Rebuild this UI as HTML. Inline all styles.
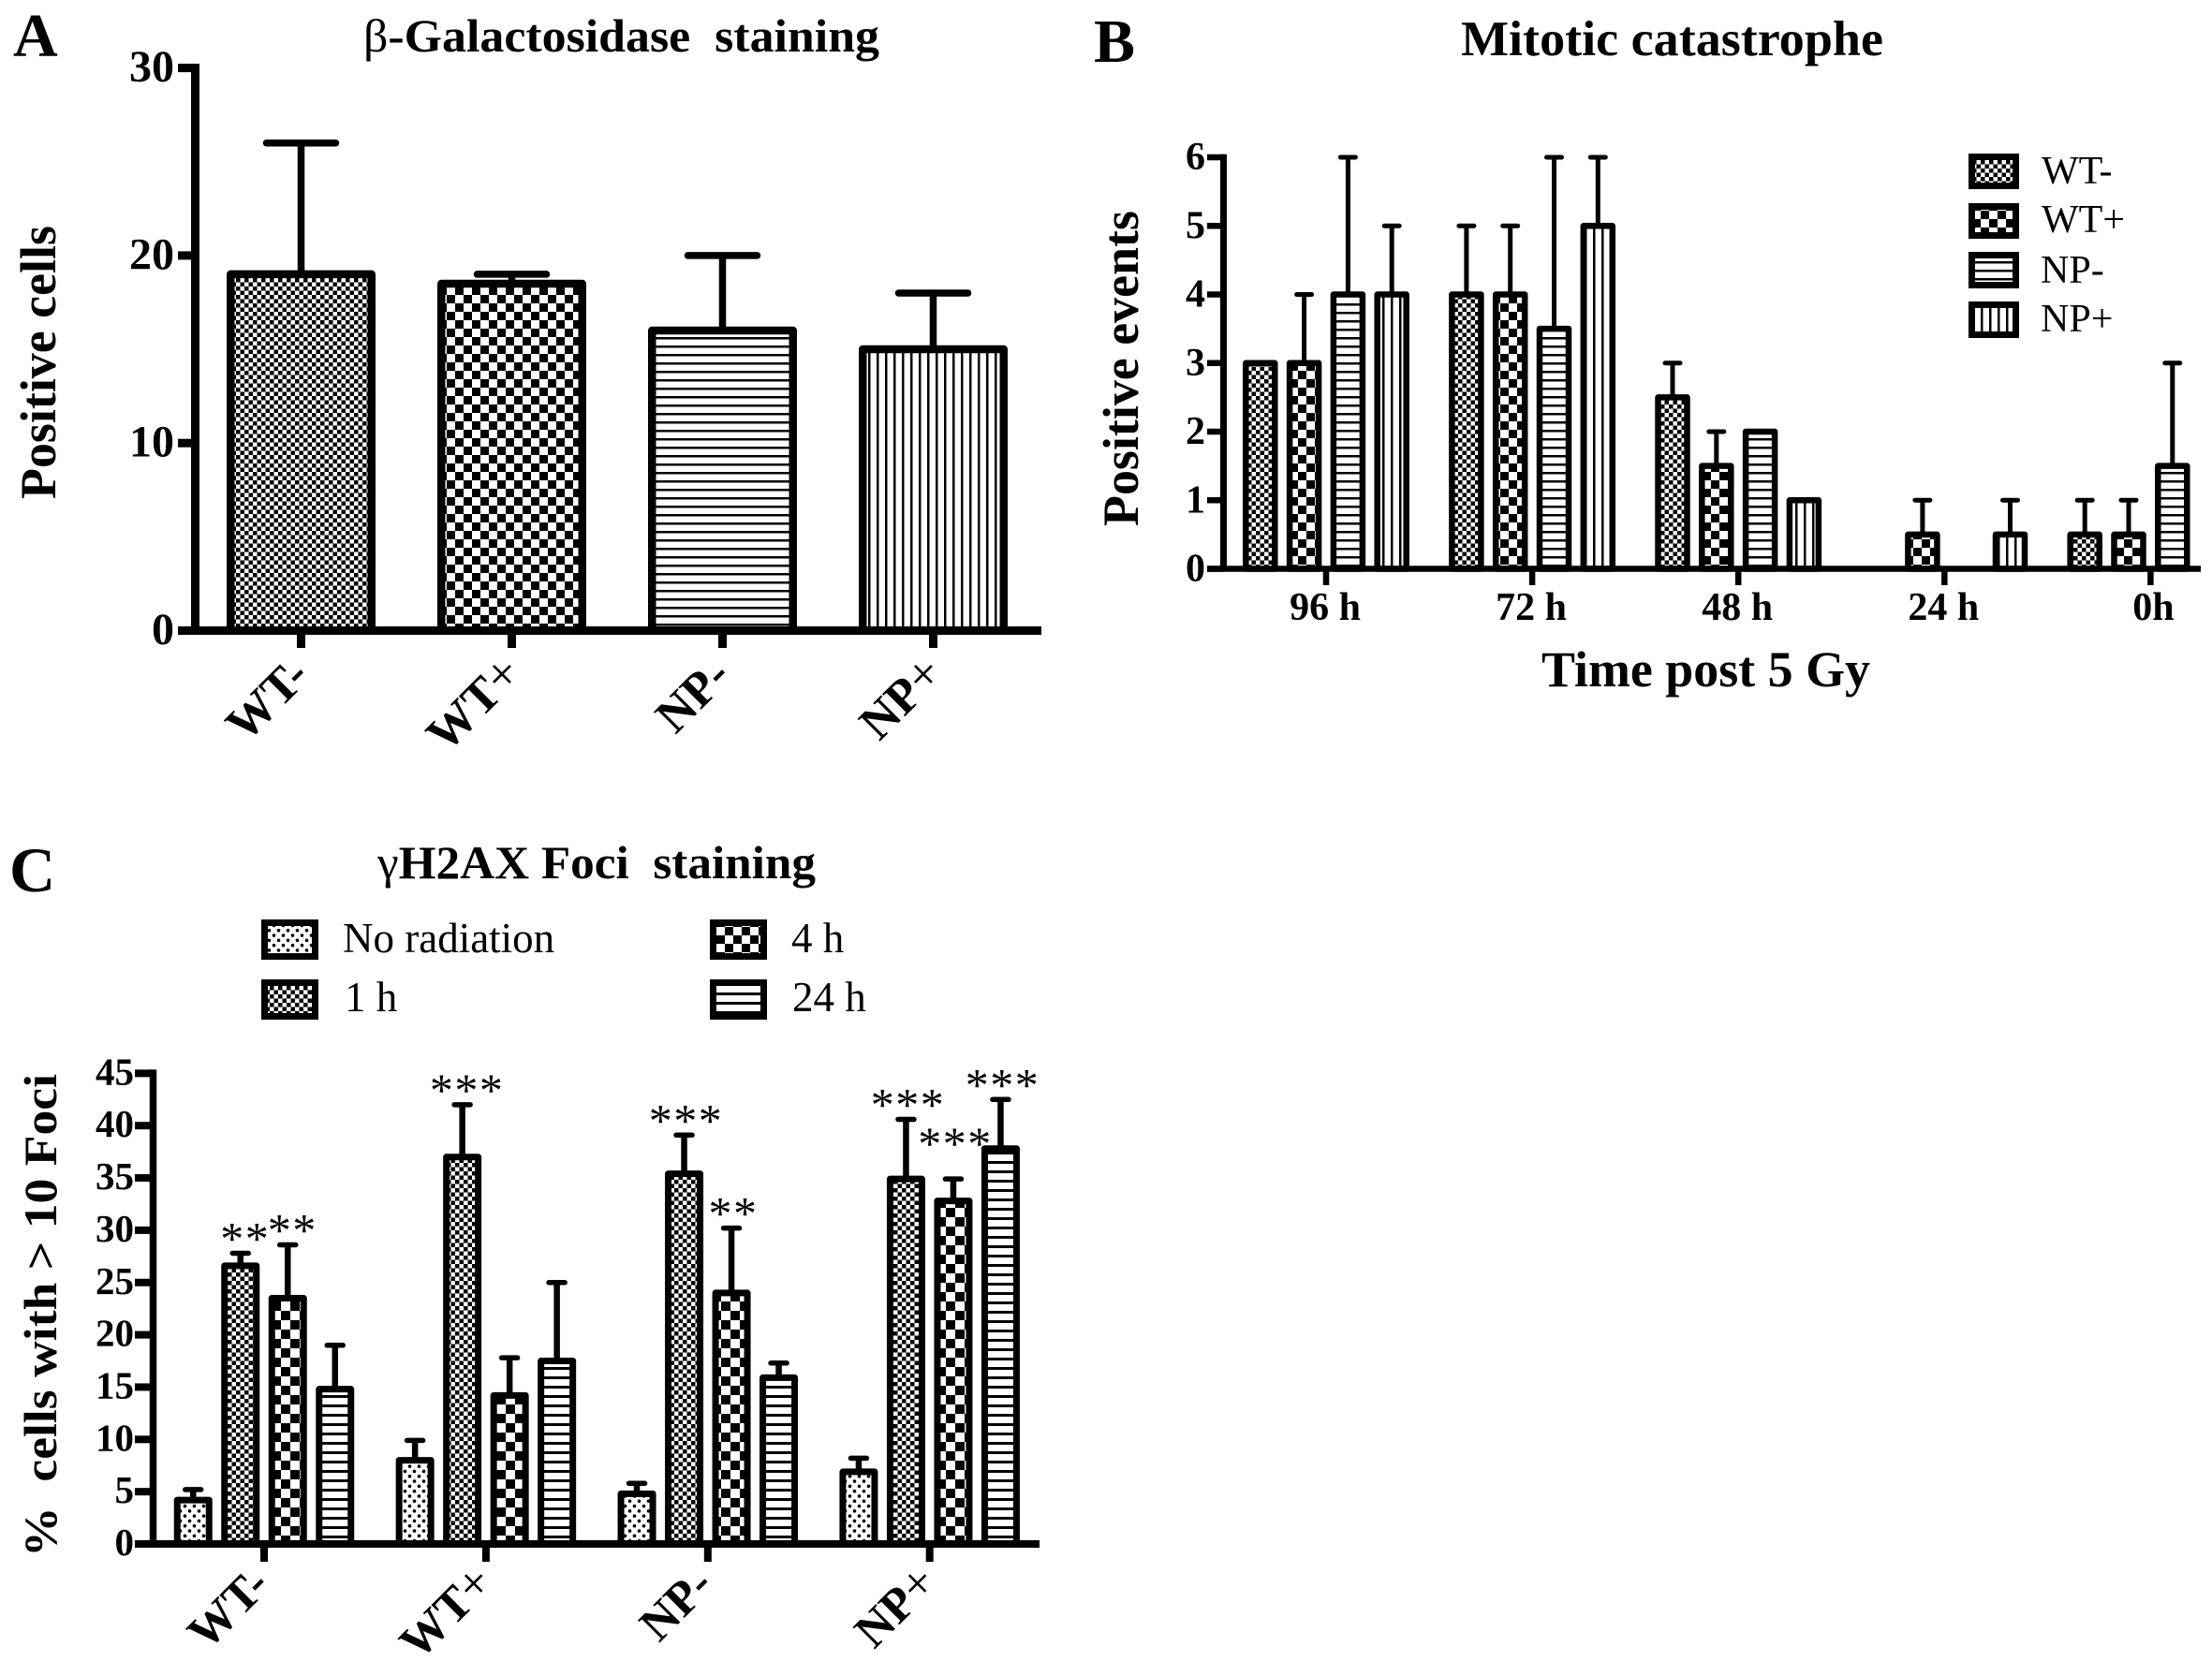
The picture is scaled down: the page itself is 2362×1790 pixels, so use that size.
<!DOCTYPE html>
<html lang="en">
<head>
<meta charset="utf-8">
<title>Staining charts</title>
<style>
html,body{margin:0;padding:0;background:#fff;}
svg{display:block;}
text{font-family:"Liberation Serif","DejaVu Serif",serif;fill:#000;}
.b{font-weight:bold;}
</style>
</head>
<body>
<svg id="figure" xmlns="http://www.w3.org/2000/svg" width="2362" height="1790" viewBox="0 0 2362 1790">
<defs>
<pattern id="chkS" patternUnits="userSpaceOnUse" width="9" height="9"><rect width="9" height="9" fill="#fff"/><rect width="4.5" height="4.5" fill="#000"/><rect x="4.5" y="4.5" width="4.5" height="4.5" fill="#000"/></pattern>
<pattern id="chkL" patternUnits="userSpaceOnUse" width="18" height="18"><rect width="18" height="18" fill="#fff"/><rect width="9" height="9" fill="#000"/><rect x="9" y="9" width="9" height="9" fill="#000"/></pattern>
<pattern id="chkC" patternUnits="userSpaceOnUse" width="20" height="20"><rect width="20" height="20" fill="#fff"/><rect width="10" height="10" fill="#000"/><rect x="10" y="10" width="10" height="10" fill="#000"/></pattern>
<pattern id="hS" patternUnits="userSpaceOnUse" width="9" height="9"><rect width="9" height="9" fill="#fff"/><rect width="9" height="2.5" fill="#000"/></pattern>
<pattern id="vS" patternUnits="userSpaceOnUse" width="9" height="9"><rect width="9" height="9" fill="#fff"/><rect width="2.5" height="9" fill="#000"/></pattern>
<pattern id="hC" patternUnits="userSpaceOnUse" width="10" height="10"><rect width="10" height="10" fill="#fff"/><rect width="10" height="3" fill="#000"/></pattern>
<pattern id="dots" patternUnits="userSpaceOnUse" width="10" height="10.6"><rect width="10" height="10.6" fill="#fff"/><circle cx="2.5" cy="2.6" r="1.8" fill="#000"/><circle cx="7.5" cy="7.9" r="1.8" fill="#000"/></pattern>
</defs>

<text class="b" x="14" y="60" font-size="66">A</text>
<text class="b" x="1168" y="66" font-size="66">B</text>
<text class="b" x="10" y="952" font-size="68">C</text>

<text class="b" x="388" y="55" font-size="50" textLength="551" lengthAdjust="spacingAndGlyphs"><tspan font-weight="normal">β</tspan>-Galactosidase&#160;&#160;staining</text>
<text class="b" x="1560" y="59" font-size="53" textLength="451" lengthAdjust="spacingAndGlyphs">Mitotic catastrophe</text>
<text class="b" x="403" y="938" font-size="50" textLength="468" lengthAdjust="spacingAndGlyphs"><tspan font-weight="normal">γ</tspan>H2AX Foci&#160;&#160;staining</text>

<text class="b" transform="translate(59 533) rotate(-90)" font-size="54" textLength="292" lengthAdjust="spacingAndGlyphs">Positive cells</text>
<text class="b" transform="translate(1215 562) rotate(-90)" font-size="54" textLength="337" lengthAdjust="spacingAndGlyphs">Positive events</text>
<text class="b" transform="translate(60 1663) rotate(-90)" font-size="50" textLength="516" lengthAdjust="spacingAndGlyphs">%&#160;&#160;cells with &gt; 10 Foci</text>
<text class="b" x="1646" y="733" font-size="54" textLength="351" lengthAdjust="spacingAndGlyphs">Time post 5 Gy</text>

<g id="panel-a"></g>
<g id="panel-b"></g>
<g id="panel-c"></g>

<g>
  <rect x="2105.5" y="167.5" width="47" height="31" fill="url(#chkS)" stroke="#000" stroke-width="7"/>
  <text x="2180" y="196" font-size="42">WT-</text>
  <rect x="2105.5" y="220.5" width="47" height="31" fill="url(#chkL)" stroke="#000" stroke-width="7"/>
  <text x="2180" y="248" font-size="42">WT+</text>
  <rect x="2105.5" y="272.5" width="47" height="32" fill="url(#hS)" stroke="#000" stroke-width="7"/>
  <text x="2179" y="302" font-size="42">NP-</text>
  <rect x="2105.5" y="325.5" width="47" height="32" fill="url(#vS)" stroke="#000" stroke-width="7"/>
  <text x="2179" y="354" font-size="42">NP+</text>
</g>

<g>
  <rect x="282.5" y="985.5" width="54" height="36" fill="url(#dots)" stroke="#000" stroke-width="7"/>
  <text x="366" y="1017" font-size="45">No radiation</text>
  <rect x="282.5" y="1049.5" width="54" height="36" fill="url(#chkS)" stroke="#000" stroke-width="7"/>
  <text x="368" y="1080" font-size="45">1 h</text>
  <rect x="761.5" y="985.5" width="54" height="36" fill="url(#chkL)" stroke="#000" stroke-width="7"/>
  <text x="845" y="1017" font-size="45">4 h</text>
  <rect x="761.5" y="1049.5" width="54" height="36" fill="url(#hC)" stroke="#000" stroke-width="7"/>
  <text x="846" y="1080" font-size="45">24 h</text>
</g>
</svg>

<script>
// Panel A data
const aCategories = ['WT-', 'WT+', 'NP-', 'NP+'];
const aValues = [19, 18.5, 16, 15];
const aErrors = [26, 19, 20, 18];
const aTicks = [0, 10, 20, 30];

// Panel B data
const bCategories = ['96 h', '72 h', '48 h', '24 h', '0h'];
const bWtMinus = [3, 4, 2.5, 0, 0.5];
const bWtPlus = [3, 4, 1.5, 0.5, 0.5];
const bNpMinus = [4, 3.5, 2, 0, 1.5];
const bNpPlus = [4, 5, 1, 0.5, 0];
const bWtMinusErr = [3, 5, 3, 0, 1];
const bWtPlusErr = [4, 5, 2, 1, 1];
const bNpMinusErr = [6, 6, 2, 0, 3];
const bNpPlusErr = [5, 6, 1, 1, 0];
const bTicks = [0, 1, 2, 3, 4, 5, 6];

// Panel C data
const cCategories = ['WT-', 'WT+', 'NP-', 'NP+'];
const cNoRadiation = [4.2, 8, 4.8, 6.9];
const cOneHour = [26.6, 37, 35.4, 34.9];
const cFourHour = [23.5, 14.2, 24, 32.8];
const cTwentyFourHour = [14.8, 17.5, 15.9, 37.8];
const cNoRadiationErr = [5.2, 9.9, 5.8, 8.2];
const cOneHourErr = [27.8, 42, 39.1, 40.6];
const cFourHourErr = [28.6, 17.8, 30.2, 34.9];
const cTwentyFourHourErr = [19, 25, 17.3, 42.5];
const cOneHourStars = ['**', '***', '***', '***'];
const cFourHourStars = ['**', '', '**', '***'];
const cTwentyFourHourStars = ['', '', '', '***'];
const cTicks = [0, 5, 10, 15, 20, 25, 30, 35, 40, 45];

const NS = 'http://www.w3.org/2000/svg';

function shape(parent, tag, attrs, name) {
  const el = document.createElementNS(NS, tag);
  for (const k in attrs) el.setAttribute(k, attrs[k]);
  
  
  parent.appendChild(el);
  return el;
}

function label(parent, str, attrs, name) {
  const el = shape(parent, 'text', attrs, name);
  el.textContent = str;
  return el;
}

function drawAxes(g, p, ticks, max) {
  const y = v => p.y0 - v * p.unit;
  shape(g, 'rect', {x: p.axisX - p.axisW / 2, y: y(max) - p.tickT / 2, width: p.axisW, height: p.y0 - y(max) + p.tickT / 2, fill: '#000'}, 'y-axis-line');
  shape(g, 'rect', {x: p.tickL, y: p.y0 - p.tickT / 2, width: p.axisEnd - p.tickL, height: p.tickT, fill: '#000'}, 'x-axis-line');
  ticks.forEach(t => {
    shape(g, 'rect', {x: p.tickL, y: y(t) - p.tickT / 2, width: p.axisX - p.tickL, height: p.tickT, fill: '#000'}, 'y-tick-' + t);
    label(g, String(t), {x: p.labelX, y: y(t) + p.labelDy, 'font-size': p.tickFont, 'font-weight': 'bold', 'text-anchor': 'end'}, 'y-tick-label-' + t);
  });
}

function drawBar(g, p, cx, value, err, fill, name) {
  const y = v => p.y0 - v * p.unit;
  if (err > value) {
    shape(g, 'rect', {x: cx - p.stem / 2, y: y(err), width: p.stem, height: y(value) - y(err), fill: '#000'}, name + '-error-stem');
    shape(g, 'line', {x1: cx - p.capW / 2, x2: cx + p.capW / 2, y1: y(err), y2: y(err), stroke: '#000', 'stroke-width': p.capT, 'stroke-linecap': 'round'}, name + '-error-cap');
  }
  shape(g, 'rect', {x: cx - p.barW / 2, y: y(value), width: p.barW, height: p.y0 - y(value), fill: 'url(#' + fill + ')', stroke: '#000', 'stroke-width': p.barS, 'stroke-linejoin': 'round'}, name);
}

function xTick(g, p, cx, name) {
  shape(g, 'rect', {x: cx - p.tickT / 2, y: p.y0, width: p.tickT, height: p.tickB - p.y0, fill: '#000'}, name);
}

function rotatedLabel(g, str, x, y, size, name) {
  const el = shape(g, 'text', {transform: 'translate(' + x + ' ' + y + ') rotate(-45)', 'font-size': size, 'font-weight': 'bold', 'text-anchor': 'end'}, name);
  const plus = str.endsWith('+');
  el.appendChild(document.createTextNode(plus ? str.slice(0, -1) : str));
  if (plus) {
    const t = document.createElementNS(NS, 'tspan');
    t.setAttribute('font-weight', 'normal');
    t.setAttribute('font-size', size * 1.05);
    t.setAttribute('letter-spacing', '-3');
    t.textContent = '+';
    el.appendChild(t);
  }
}

// Panel A
(function () {
  const g = document.getElementById('panel-a');
  const p = {y0: 673.5, unit: 20.03, axisX: 208.5, axisW: 9, tickL: 190, tickT: 9, axisEnd: 1112, labelX: 186, labelDy: 14.5, tickFont: 48, stem: 7.5, capW: 74, capT: 7.5, barW: 150.5, barS: 8.5, tickB: 692};
  const fills = ['chkS', 'chkL', 'hS', 'vS'];
  const xPos = i => 321.5 + i * 225;
  aCategories.forEach((c, i) => {
    drawBar(g, p, xPos(i), aValues[i], aErrors[i], fills[i], 'bar-a-' + c);
  });
  drawAxes(g, p, aTicks, 30);
  aCategories.forEach((c, i) => {
    xTick(g, p, xPos(i), 'x-tick-a-' + c);
    rotatedLabel(g, c, xPos(i) + 11, 724, 52, 'x-tick-label-a-' + c);
  });
})();

// Panel B
(function () {
  const g = document.getElementById('panel-b');
  const p = {y0: 607.5, unit: 73.25, axisX: 1306.5, axisW: 7, tickL: 1289, tickT: 6.5, axisEnd: 2350, labelX: 1287, labelDy: 13, tickFont: 42, stem: 5, capW: 16, capT: 5, barW: 31, barS: 6.5, tickB: 625};
  const fills = ['chkS', 'chkL', 'hS', 'vS'];
  const series = [bWtMinus, bWtPlus, bNpMinus, bNpPlus];
  const errors = [bWtMinusErr, bWtPlusErr, bNpMinusErr, bNpPlusErr];
  const names = ['wt-minus', 'wt-plus', 'np-minus', 'np-plus'];
  const groupX = i => 1416 + i * 220.1;
  const offset = s => (s - 1.5) * 46.8;
  bCategories.forEach((c, i) => {
    series.forEach((vals, s) => {
      if (vals[i] > 0) drawBar(g, p, groupX(i) + offset(s), vals[i], errors[s][i], fills[s], 'bar-b-' + names[s] + '-' + i);
    });
  });
  drawAxes(g, p, bTicks, 6);
  bCategories.forEach((c, i) => {
    xTick(g, p, groupX(i), 'x-tick-b-' + i);
    label(g, c, {x: groupX(i) - 1 + (c === '0h' ? 4 : 0), y: 662, 'font-size': 42, 'font-weight': 'bold', 'text-anchor': 'middle'}, 'x-tick-label-b-' + i);
  });
})();

// Panel C
(function () {
  const g = document.getElementById('panel-c');
  const p = {y0: 1649, unit: 11.17, axisX: 163.5, axisW: 7.5, tickL: 144, tickT: 8, axisEnd: 1110, labelX: 143, labelDy: 12, tickFont: 41, stem: 6.5, capW: 17, capT: 5.5, barW: 34, barS: 7, tickB: 1668};
  const fills = ['dots', 'chkS', 'chkC', 'hC'];
  const series = [cNoRadiation, cOneHour, cFourHour, cTwentyFourHour];
  const errors = [cNoRadiationErr, cOneHourErr, cFourHourErr, cTwentyFourHourErr];
  const stars = [null, cOneHourStars, cFourHourStars, cTwentyFourHourStars];
  const names = ['no-radiation', '1h', '4h', '24h'];
  const groupX = i => 282 + i * 236.9;
  const offset = s => (s - 1.5) * 50.5;
  const y = v => p.y0 - v * p.unit;
  cCategories.forEach((c, i) => {
    series.forEach((vals, s) => {
      drawBar(g, p, groupX(i) + offset(s), vals[i], errors[s][i], fills[s], 'bar-c-' + names[s] + '-' + c);
    });
  });
  drawAxes(g, p, cTicks, 45);
  cCategories.forEach((c, i) => {
    xTick(g, p, groupX(i), 'x-tick-c-' + c);
    rotatedLabel(g, c, groupX(i) + 8, 1695, 51, 'x-tick-label-c-' + c);
    [1, 2, 3].forEach(s => {
      const str = stars[s][i];
      if (!str) return;
      const cx = groupX(i) + offset(s) + (i < 2 ? 5 : 2);
      const lift = (s === 2 && i === 3) ? 22 : 0;
      label(g, str, {x: cx, y: y(errors[s][i]) + 1 - lift, 'font-size': 50, 'letter-spacing': '1.5', 'text-anchor': 'middle'}, 'significance-' + names[s] + '-' + c);
    });
  });
})();
</script>
</body>
</html>
